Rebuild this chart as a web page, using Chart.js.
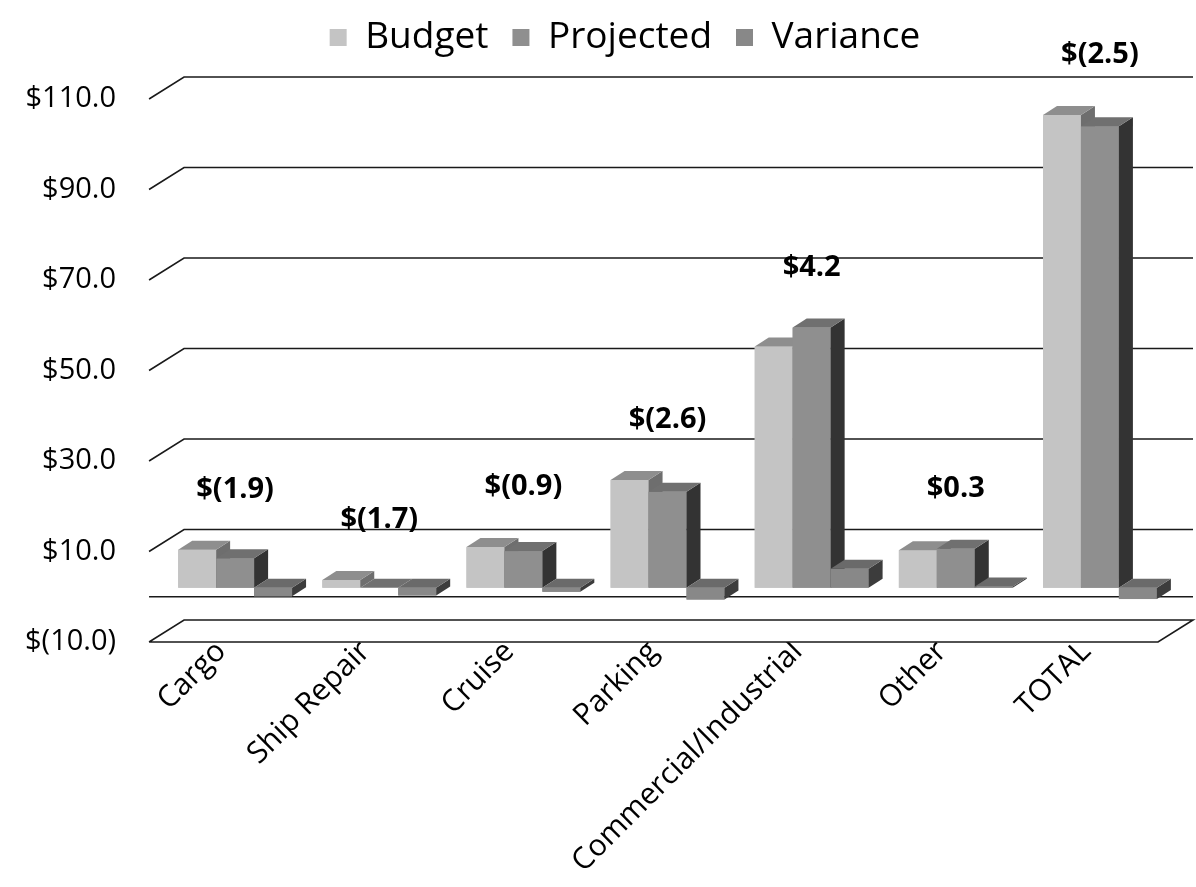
<!DOCTYPE html>
<html lang="en">
<head>
<meta charset="UTF-8">
<title>Budget vs Projected by line of business</title>
<script src="https://cdn.jsdelivr.net/npm/chart.js@4.4.1/dist/chart.umd.min.js"></script>
<style>
  html, body { margin: 0; background: #fff; }
  #wrap { width: 1196px; height: 887px; }
</style>
</head>
<body>
<div id="wrap"><canvas id="chart"></canvas></div>
<script>
// data ($ millions)
const categories = ['Cargo', 'Ship Repair', 'Cruise', 'Parking', 'Commercial/Industrial', 'Other', 'TOTAL'];
const budget    = [8.4, 1.7, 9.0, 23.8, 53.3, 8.3, 104.5];
const projected = [6.5, 0.0, 8.1, 21.2, 57.5, 8.6, 102.0];
const variance  = [-1.9, -1.7, -0.9, -2.6, 4.2, 0.3, -2.5];
const yTicks = [-10, 10, 30, 50, 70, 90, 110];

const FONT = '"Open Sans", "Noto Sans", sans-serif';
// fake 3d: back wall offset, bar row offset, bar depth
const DX = 35, DY = 22;
const BX = 14, BY = -9;
const TX = 14, TY = 9;

function money(v) {
  return v < 0 ? '$(' + Math.abs(v).toFixed(1) + ')' : '$' + v.toFixed(1);
}

function drawBox(ctx, ds, bar) {
  const { x, y, base, width } = bar.getProps(['x', 'y', 'base', 'width'], true);
  const l = x - width / 2, r = x + width / 2;
  const t = Math.min(y, base), b = Math.max(y, base);
  ctx.fillStyle = ds.backgroundColor;
  ctx.fillRect(l, t, r - l, b - t);
  ctx.fillStyle = ds.sideColor;
  ctx.beginPath();
  ctx.moveTo(r, t); ctx.lineTo(r + TX, t - TY); ctx.lineTo(r + TX, b - TY); ctx.lineTo(r, b);
  ctx.closePath(); ctx.fill();
  ctx.fillStyle = ds.topColor;
  ctx.beginPath();
  ctx.moveTo(l, t); ctx.lineTo(l + TX, t - TY); ctx.lineTo(r + TX, t - TY); ctx.lineTo(r, t);
  ctx.closePath(); ctx.fill();
}

// legend: extra room under it and nudged right to sit over the plot
const legendTweak = {
  id: 'legendTweak',
  beforeInit(chart) {
    const lg = chart.legend;
    const fit = lg.fit;
    lg.fit = function () { fit.call(this); this.height += 28; };
    const draw = lg.draw;
    lg.draw = function () {
      const ctx = this.ctx;
      ctx.save(); ctx.translate(46, -5);
      draw.call(this);
      ctx.restore();
    };
  }
};

const threeD = {
  id: 'threeD',
  beforeDatasetsDraw(chart) {
    const { ctx, chartArea: a, scales: { y } } = chart;
    ctx.save();
    ctx.strokeStyle = '#1a1a1a';
    ctx.lineWidth = 1.6;
    yTicks.forEach((v, i) => {
      const py = y.getPixelForValue(v);
      ctx.beginPath();
      ctx.moveTo(a.left, py);
      ctx.lineTo(a.left + DX, py - DY);
      ctx.lineTo(a.right + DX, py - DY);
      if (i === 0) { ctx.lineTo(a.right, py); ctx.lineTo(a.left, py); }
      ctx.stroke();
    });
    const p0 = y.getPixelForValue(0);
    ctx.beginPath();
    ctx.moveTo(a.left, p0);
    ctx.lineTo(a.right + DX, p0);
    ctx.stroke();
    ctx.restore();
  },
  beforeDatasetDraw(chart) {
    chart.ctx.save();
    chart.ctx.translate(BX, BY);
  },
  afterDatasetDraw(chart) {
    chart.ctx.restore();
  },
  afterDatasetsDraw(chart) {
    // redraw the boxes left to right so each bar hides the side of its left neighbour
    const ctx = chart.ctx;
    ctx.save();
    ctx.translate(BX, BY);
    const metas = chart.data.datasets.map((d, i) => chart.getDatasetMeta(i));
    categories.forEach((c, i) => {
      metas.forEach((m, k) => drawBox(ctx, chart.data.datasets[k], m.data[i]));
    });
    ctx.restore();

    const { x, y } = chart.scales;
    ctx.save();
    ctx.font = 'bold 29px ' + FONT;
    ctx.fillStyle = '#000';
    ctx.textAlign = 'center';
    ctx.textBaseline = 'middle';
    categories.forEach((c, i) => {
      const top = y.getPixelForValue(Math.max(budget[i], projected[i], 0));
      ctx.fillText(money(variance[i]), x.getPixelForValue(i) + BX, top + BY - 60);
    });
    ctx.restore();
  }
};

new Chart(document.getElementById('chart'), {
  type: 'bar',
  data: {
    labels: categories,
    datasets: [
      { label: 'Budget', data: budget, backgroundColor: '#c4c4c4', topColor: '#8e8e8e', sideColor: '#6e6e6e' },
      { label: 'Projected', data: projected, backgroundColor: '#8f8f8f', topColor: '#707070', sideColor: '#333333' },
      { label: 'Variance', data: variance, backgroundColor: '#888888', topColor: '#6a6a6a', sideColor: '#3c3c3c' }
    ].map(d => Object.assign(d, { borderWidth: 0, barPercentage: 1.0, categoryPercentage: 0.79, clip: false }))
  },
  options: {
    responsive: true,
    maintainAspectRatio: false,
    animation: false,
    layout: { padding: { left: 0, right: 38, top: 0, bottom: 0 } },
    plugins: {
      tooltip: { enabled: false },
      legend: {
        position: 'top',
        labels: {
          color: '#000',
          font: { family: FONT, size: 37 },
          boxWidth: 17,
          boxHeight: 17,
          padding: 24
        }
      }
    },
    scales: {
      x: {
        afterFit: s => { s.height = 245; },
        grid: { display: false },
        border: { display: false },
        ticks: {
          color: '#000',
          font: { family: FONT, size: 30 },
          maxRotation: 45,
          minRotation: 45,
          padding: -16,
          autoSkip: false
        }
      },
      y: {
        min: -10,
        max: 110,
        afterBuildTicks: s => { s.ticks = yTicks.map(v => ({ value: v })); },
        grid: { display: false },
        border: { display: false },
        ticks: {
          color: '#000',
          font: { family: FONT, size: 29 },
          padding: 25,
          callback: v => money(v)
        }
      }
    }
  },
  plugins: [threeD, legendTweak]
});
</script>
</body>
</html>
